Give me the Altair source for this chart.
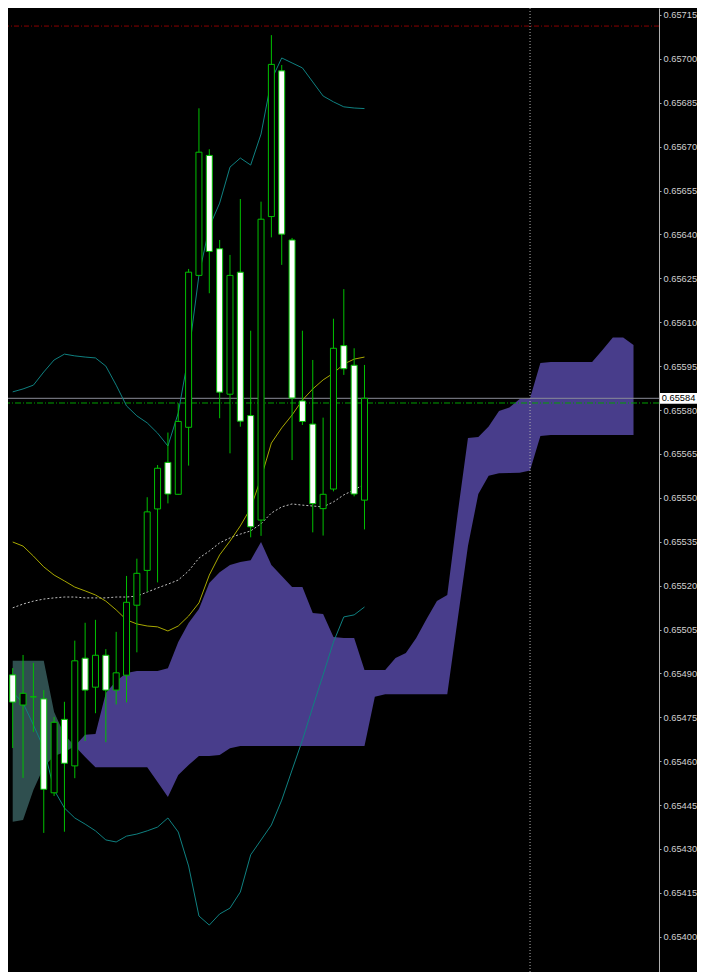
import altair as alt
import pandas as pd

# ---------------- data ----------------
candle_index = list(range(35))
opens = [0.654895, 0.654792, 0.654820, 0.654813, 0.654492, 0.654743, 0.654584, 0.654952, 0.654853, 0.654962,
         0.654843, 0.654894, 0.655133, 0.655252, 0.655462, 0.655621, 0.655512, 0.655741, 0.656260, 0.656670,
         0.656351, 0.655854, 0.656271, 0.655781, 0.655424, 0.656461, 0.656959, 0.656381, 0.655831, 0.655752,
         0.655463, 0.655530, 0.656020, 0.655953, 0.655492]
highs = [0.654918, 0.654963, 0.654936, 0.654843, 0.654751, 0.654803, 0.655012, 0.655073, 0.655083, 0.654983,
         0.655042, 0.655233, 0.655292, 0.655502, 0.655612, 0.655723, 0.655823, 0.656282, 0.656831, 0.656691,
         0.656381, 0.656330, 0.656521, 0.656071, 0.656512, 0.657081, 0.656979, 0.656388, 0.656071, 0.655971,
         0.655774, 0.656112, 0.656213, 0.656011, 0.655954]
lows = [0.654645, 0.654543, 0.654700, 0.654355, 0.654481, 0.654359, 0.654542, 0.654669, 0.654764, 0.654665,
        0.654794, 0.654801, 0.654972, 0.655179, 0.655211, 0.655481, 0.655510, 0.655610, 0.656258, 0.656199,
        0.655772, 0.655652, 0.655743, 0.655365, 0.655370, 0.656390, 0.656296, 0.655629, 0.655749, 0.655382,
        0.655371, 0.655522, 0.655920, 0.655505, 0.655392]
closes = [0.654802, 0.654832, 0.654820, 0.654504, 0.654733, 0.654593, 0.654943, 0.654843, 0.654962, 0.654843,
          0.654902, 0.655143, 0.655242, 0.655452, 0.655601, 0.655513, 0.655761, 0.656271, 0.656681, 0.656342,
          0.655861, 0.656260, 0.655762, 0.655401, 0.656452, 0.656981, 0.656401, 0.655841, 0.655761, 0.655480,
          0.655512, 0.656011, 0.655941, 0.655513, 0.655840]

bb_upper = [0.655862, 0.655872, 0.655885, 0.655930, 0.655971, 0.655991, 0.655985, 0.655981, 0.655978, 0.655950,
            0.655885, 0.655814, 0.655780, 0.655756, 0.655721, 0.655677, 0.655790, 0.655988, 0.656261, 0.656425,
            0.656507, 0.656630, 0.656661, 0.656637, 0.656743, 0.656928, 0.657003, 0.656986, 0.656969, 0.656921,
            0.656873, 0.656853, 0.656836, 0.656832, 0.656830]
bb_middle = [0.655124, 0.655137, 0.655147, 0.655154, 0.655158, 0.655161, 0.655161, 0.655158, 0.655158, 0.655158,
             0.655161, 0.655161, 0.655164, 0.655178, 0.655192, 0.655205, 0.655219, 0.655250, 0.655294, 0.655318,
             0.655346, 0.655363, 0.655376, 0.655387, 0.655411, 0.655448, 0.655469, 0.655479, 0.655475, 0.655472,
             0.655469, 0.655486, 0.655510, 0.655527, 0.655547]
bb_lower = [0.654836, 0.654799, 0.654724, 0.654645, 0.654502, 0.654440, 0.654406, 0.654385, 0.654362, 0.654331,
            0.654324, 0.654344, 0.654351, 0.654362, 0.654375, 0.654406, 0.654358, 0.654242, 0.654071, 0.654040,
            0.654078, 0.654098, 0.654153, 0.654280, 0.654331, 0.654382, 0.654467, 0.654570, 0.654672, 0.654785,
            0.654895, 0.655007, 0.655093, 0.655100, 0.655127]
yellow_ma = [0.655349, 0.655335, 0.655301, 0.655264, 0.655236, 0.655216, 0.655195, 0.655182, 0.655168, 0.655147,
             0.655117, 0.655083, 0.655069, 0.655062, 0.655059, 0.655045, 0.655062, 0.655096, 0.655141, 0.655236,
             0.655305, 0.655352, 0.655404, 0.655465, 0.655568, 0.655687, 0.655739, 0.655783, 0.655834, 0.655872,
             0.655903, 0.655926, 0.655957, 0.655974, 0.655981]

cloud_index = list(range(61))
span_x = [0.654943, 0.654943, 0.654943, 0.654943, 0.654768, 0.654690, 0.654652, 0.654614, 0.654579, 0.654579,
          0.654579, 0.654579, 0.654579, 0.654579, 0.654529, 0.654478, 0.654553, 0.654587, 0.654618, 0.654618,
          0.654621, 0.654644, 0.654652, 0.654652, 0.654652, 0.654652, 0.654652, 0.654652, 0.654652, 0.654652,
          0.654652, 0.654652, 0.654652, 0.654652, 0.654652, 0.654820, 0.654829, 0.654829, 0.654829, 0.654829,
          0.654829, 0.654829, 0.654829, 0.655083, 0.655335, 0.655513, 0.655575, 0.655584, 0.655585, 0.655586,
          0.655593, 0.655711, 0.655715, 0.655715, 0.655715, 0.655715, 0.655715, 0.655715, 0.655715, 0.655715,
          0.655715]
span_y = [0.654393, 0.654399, 0.654502, 0.654580, 0.654618, 0.654631, 0.654652, 0.654690, 0.654693, 0.654833,
          0.654874, 0.654901, 0.654908, 0.654908, 0.654908, 0.654918, 0.655007, 0.655072, 0.655120, 0.655209,
          0.655246, 0.655270, 0.655281, 0.655287, 0.655349, 0.655270, 0.655233, 0.655195, 0.655195, 0.655106,
          0.655103, 0.655024, 0.655021, 0.655021, 0.654912, 0.654912, 0.654912, 0.654953, 0.654970, 0.655021,
          0.655086, 0.655147, 0.655168, 0.655445, 0.655704, 0.655708, 0.655744, 0.655797, 0.655809, 0.655838,
          0.655840, 0.655961, 0.655964, 0.655964, 0.655964, 0.655964, 0.655964, 0.656005, 0.656048, 0.656048,
          0.656022]
cloud_switch = 6  # index where the two spans meet

red_level = 0.657112
bid_price = 0.65584
green_level = 0.655824
vline_index = 50

price_ticks = [0.65400, 0.65415, 0.65430, 0.65445, 0.65460, 0.65475, 0.65490, 0.65505, 0.65520, 0.65535,
               0.65550, 0.65565, 0.65580, 0.65595, 0.65610, 0.65625, 0.65640, 0.65655, 0.65670, 0.65685,
               0.65700, 0.65715]
bid_label = "0.65584"

# ---------------- tables ----------------
candles = pd.DataFrame({"i": candle_index, "open": opens, "high": highs,
                        "low": lows, "close": closes,
                        "up": bb_upper, "mid": bb_middle, "lo": bb_lower, "ma": yellow_ma})
candles["fill"] = ["white" if c < o else "black" for o, c in zip(opens, closes)]

cloud = pd.DataFrame({"i": cloud_index, "a": span_x, "b": span_y})
cloud_grey = cloud[cloud["i"] <= cloud_switch]
cloud_purple = cloud[cloud["i"] >= cloud_switch]

W, H = 651, 964
xscale = alt.Scale(domain=[0.028, 61.98], nice=False, zero=False)
yscale = alt.Scale(domain=[0.6538797, 0.6571737], nice=False, zero=False)
yaxis = alt.Axis(orient="right", values=price_ticks, format=".5f", title=None, grid=False,
                 labelColor="#d0d0d0", labelFont="Liberation Sans", labelFontSize=9.3,
                 labelPadding=2, tickSize=2, tickColor="#b0b0b0", domainColor="#b0b0b0",
                 labelOverlap=False, labelFlush=False)


def X(f):
    return alt.X(f, type="quantitative", scale=xscale, axis=None)


def Y(f):
    return alt.Y(f, type="quantitative", scale=yscale, axis=yaxis)


GREEN = "#00c000"

grey_area = alt.Chart(cloud_grey).mark_area(color="#2F4F4F", clip=True).encode(
    x=X("i"), y=Y("a"), y2=alt.Y2("b"))
purple_area = alt.Chart(cloud_purple).mark_area(color="#483D8B", clip=True).encode(
    x=X("i"), y=Y("a"), y2=alt.Y2("b"))

red_line = alt.Chart(pd.DataFrame({"p": [red_level]})).mark_rule(
    color="#8b0000", strokeWidth=1, strokeDash=[5, 2, 1, 2]).encode(y=Y("p"))
vline = alt.Chart(pd.DataFrame({"i": [vline_index]})).mark_rule(
    color="#b0b0b0", strokeWidth=1, strokeDash=[1, 2]).encode(x=X("i"))
bid_line = alt.Chart(pd.DataFrame({"p": [bid_price]})).mark_rule(
    color="#8a8c98", strokeWidth=1).encode(y=Y("p"))
green_line = alt.Chart(pd.DataFrame({"p": [green_level]})).mark_rule(
    color="#00a000", strokeWidth=1, strokeDash=[6, 2, 1, 2]).encode(y=Y("p"))

base = alt.Chart(candles)
upper = base.mark_line(color="#0f8080", strokeWidth=1, clip=True).encode(x=X("i"), y=Y("up"))
lower = base.mark_line(color="#0f8080", strokeWidth=1, clip=True).encode(x=X("i"), y=Y("lo"))
middle = base.mark_line(color="#c0c0c0", strokeWidth=1, strokeDash=[2, 2], clip=True).encode(
    x=X("i"), y=Y("mid"))
yellow = base.mark_line(color="#a8a800", strokeWidth=1, clip=True).encode(x=X("i"), y=Y("ma"))

wicks = base.mark_rule(color=GREEN, strokeWidth=1, clip=True).encode(
    x=X("i"), y=Y("low"), y2=alt.Y2("high"))
bodies = base.mark_bar(size=6, stroke=GREEN, strokeWidth=1, clip=True).encode(
    x=X("i"), y=Y("open"), y2=alt.Y2("close"), fill=alt.Fill("fill:N", scale=None))

box = alt.Chart(pd.DataFrame({"p": [bid_price], "t": [bid_label]})).mark_point(
    shape="M-1,-0.29L1,-0.29L1,0.29L-1,0.29Z", size=1369, filled=True, color="white",
    opacity=1, strokeWidth=0, clip=False).encode(x=alt.value(670.5), y=Y("p"))
box_text = alt.Chart(pd.DataFrame({"p": [bid_price], "t": [bid_label]})).mark_text(
    color="black", font="Liberation Sans", fontSize=9.3, align="center", baseline="middle",
    clip=False).encode(x=alt.value(670.5), y=Y("p"), text="t:N")

chart = alt.layer(
    grey_area, purple_area, red_line, vline, bid_line, green_line,
    upper, lower, middle, yellow, wicks, bodies, box, box_text
).properties(
    width=W, height=H,
    autosize=alt.AutoSizeParams(type="none"),
    padding={"left": 0, "top": 0, "right": 38, "bottom": 0},
    background="black",
).configure_view(stroke=None, fill="black")

chart.save("out.html", embed_options={"renderer": "svg", "actions": False})
